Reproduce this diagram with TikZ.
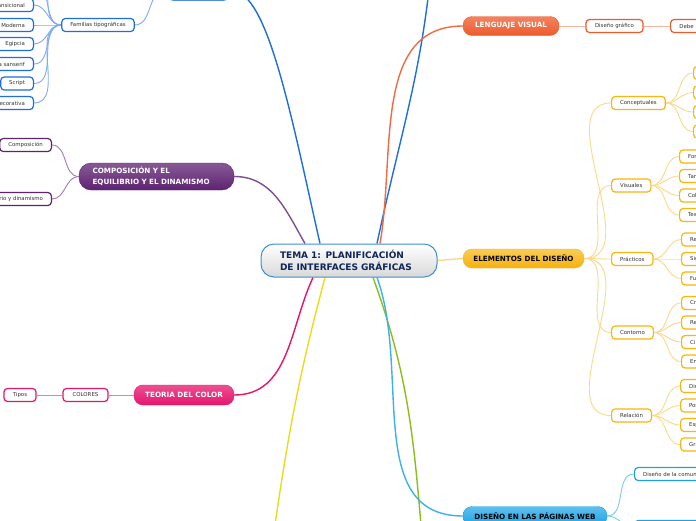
\documentclass[tikz,border=0pt]{standalone}
\usepackage{fontspec}
\setmainfont{DejaVu Sans}
\usetikzlibrary{positioning,backgrounds}
\definecolor{txtgray}{HTML}{333333}
\definecolor{typoblue}{HTML}{1E6FD9}
\definecolor{typoline}{HTML}{80ABF0}
\definecolor{compurple}{HTML}{5E2372}
\definecolor{compline}{HTML}{A47BB3}
\definecolor{colpink}{HTML}{E5156D}
\definecolor{colline}{HTML}{F27AA8}
\definecolor{lenorange}{HTML}{EE5A2C}
\definecolor{lenline}{HTML}{F7B3A0}
\definecolor{elemgold}{HTML}{F8B60E}
\definecolor{elemline}{HTML}{FCD98A}
\definecolor{webblue}{HTML}{1BA3E6}
\definecolor{webline}{HTML}{7CCBF2}
\definecolor{yelline}{HTML}{E9DC1C}
\definecolor{grnline}{HTML}{8DBD1A}
\definecolor{cenedge}{HTML}{3D8FD6}
\definecolor{centext}{HTML}{10265A}
\tikzset{
  topic/.style={rounded corners=9pt, minimum height=19pt, inner xsep=10pt, inner ysep=1pt,
                align=left, text=white, font=\fontsize{7.2}{11}\selectfont\bfseries},
  leaf/.style={draw, fill=white, line width=1.2pt, rounded corners=3.5pt, minimum height=13pt,
               minimum width=32pt, inner xsep=8.5pt, inner ysep=1pt, text=txtgray,
               font=\fontsize{5.4}{6}\selectfont},
  stub/.style={leaf, draw=elemgold, anchor=west, text width=40pt, align=left},
  trunk/.style={line width=1.4pt},
  twig/.style={line width=0.9pt},
}

\begin{document}
\begin{tikzpicture}[x=1pt, y=1pt]
  \useasboundingbox (0,0) rectangle (696,-520);
  \clip (0,0) rectangle (696,-520);
  \begin{scope}[on background layer]
    \fill[white] (0,0) rectangle (696,-520);
  \end{scope}

  % centre
  \node[draw=cenedge, line width=1pt, top color=white, bottom color=gray!30, rounded corners=13pt,
        text=centext, font=\fontsize{9}{11.5}\selectfont\bfseries, align=left, text width=138pt,
        inner xsep=19pt, minimum height=33pt] (cen) at (349,-260.5)
        {TEMA 1: PLANIFICACIÓN\\DE INTERFACES GRÁFICAS};

  % tipografia (top left)
  \node[topic, top color=typoblue!80, bottom color=typoblue, draw=typoblue, minimum width=67pt] (typo) at (198.5,9) {};
  \node[leaf, draw=typoblue] (fam) at (98,-25) {Familias tipográficas};
  \node[leaf, draw=typoblue, anchor=east] (tTrans) at (34,-5) {Transicional};
  \node[leaf, draw=typoblue, anchor=east] (tMod) at (34,-25) {Moderna};
  \node[leaf, draw=typoblue, anchor=east] (tEgip) at (34,-44) {Egipcia};
  \node[leaf, draw=typoblue, anchor=east] (tSans) at (34,-64) {a sanserif};
  \node[leaf, draw=typoblue, anchor=east] (tScript) at (34,-83.5) {Script};
  \node[leaf, draw=typoblue, anchor=east] (tDeco) at (34,-103) {Decorativa};
  \coordinate (tUpA) at (34,16);
  \coordinate (tUpB) at (34,36);

  % composicion
  \node[topic, top color=compurple!75, bottom color=compurple, draw=compurple, text width=128pt,
        inner xsep=13.5pt, minimum height=27pt, rounded corners=12pt] (comp) at (156.5,-176.5)
        {COMPOSICIÓN Y EL\\EQUILIBRIO Y EL DINAMISMO};
  \node[leaf, draw=compurple, anchor=east] (cA) at (52,-145) {Composición};
  \node[leaf, draw=compurple, anchor=east] (cB) at (52,-199) {Equilibrio y dinamismo};

  % color
  \node[topic, top color=colpink!75, bottom color=colpink, draw=colpink, minimum width=100pt,
        minimum height=20pt, align=center] (color) at (184,-395) {TEORIA DEL COLOR};
  \node[leaf, draw=colpink, minimum width=45pt] (colores) at (85.5,-395) {COLORES};
  \node[leaf, draw=colpink] (tipos) at (20,-395) {Tipos};

  % lenguaje visual
  \node[topic, top color=lenorange!75, bottom color=lenorange, draw=lenorange, minimum width=96pt,
        align=center] (lenguaje) at (511,-26) {LENGUAJE VISUAL};
  \node[leaf, draw=lenorange, minimum width=57pt] (disgraf) at (614.5,-26) {Diseño gráfico};
  \node[leaf, draw=lenorange, anchor=west] (debe) at (670,-26) {Debe};

  % elementos
  \node[topic, top color=elemgold!70, bottom color=elemgold!90!orange, draw=elemgold, text=black,
        minimum width=121pt, align=center] (elem) at (523.5,-258.5) {ELEMENTOS DEL DISEÑO};
  \node[leaf, draw=elemgold, anchor=west] (concep) at (611,-103) {Conceptuales};
  \node[leaf, draw=elemgold, anchor=west] (visual) at (611,-185.5) {Visuales};
  \node[leaf, draw=elemgold, anchor=west] (pract) at (611,-259) {Prácticos};
  \node[leaf, draw=elemgold, anchor=west] (contor) at (611,-332.5) {Contorno};
  \node[leaf, draw=elemgold, anchor=west] (relac) at (611,-415.5) {Relación};
  \node[stub] (cp1) at (693,-73) {};
  \node[stub] (cp2) at (693,-92.5) {};
  \node[stub] (cp3) at (693,-112) {};
  \node[stub] (cp4) at (693,-131.5) {};
  \node[stub] (vi1) at (679,-156.5) {Forma};
  \node[stub] (vi2) at (679,-176) {Tamaño};
  \node[stub] (vi3) at (679,-195.5) {Color};
  \node[stub] (vi4) at (679,-215) {Textura};
  \node[stub] (pr1) at (681,-239.5) {Representación};
  \node[stub] (pr2) at (681,-259) {Significado};
  \node[stub] (pr3) at (681,-278.5) {Función};
  \node[stub] (co1) at (681,-303) {Cr};
  \node[stub] (co2) at (681,-322.5) {Re};
  \node[stub] (co3) at (681,-342) {Ci};
  \node[stub] (co4) at (681,-361.5) {En};
  \node[stub] (re1) at (680,-386) {Dirección};
  \node[stub] (re2) at (680,-405.5) {Posición};
  \node[stub] (re3) at (680,-425) {Espacio};
  \node[stub] (re4) at (680,-444.5) {Gravedad};

  % paginas web
  \node[topic, top color=webblue!70, bottom color=webblue, draw=webblue, text=black,
        minimum width=144pt, align=center] (web) at (535,-516) {DISEÑO EN LAS PÁGINAS WEB};
  \node[leaf, draw=webblue, anchor=west] (webA) at (634,-474) {Diseño de la comunicación};
  \node[leaf, draw=webblue, anchor=west, minimum width=70pt] (webB) at (634,-527) {};

  \coordinate (tEnd) at (432,40);
  \coordinate (yEnd) at (270,-560);
  \coordinate (gEnd) at (424,-560);

  \begin{scope}[on background layer]
    % trunks from the centre
    \draw[trunk, typoblue] (typo.east) .. controls (268,9) and (292,-120) .. ([xshift=-29pt]cen.north);
    \draw[trunk, typoblue] ([xshift=28pt]cen.north) to[out=78, in=-95] (tEnd);
    \draw[trunk, lenorange!90] ([xshift=31pt]cen.north) to[out=80, in=180] (lenguaje.west);
    \draw[trunk, compurple!80] ([xshift=-44pt]cen.north) to[out=120, in=0] (comp.east);
    \draw[trunk, colpink] ([xshift=-36pt]cen.south) to[out=-115, in=0] (color.east);
    \draw[trunk, yelline] ([xshift=-24pt]cen.south) to[out=-105, in=82] (yEnd);
    \draw[trunk, grnline] ([xshift=24pt]cen.south) to[out=-70, in=95] (gEnd);
    \draw[trunk, webblue!85] ([xshift=28pt]cen.south) to[out=-70, in=180] (web.west);
    \draw[trunk, elemline] (cen.east) -- (elem.west);
    % tipografia
    \draw[twig, typoline] (fam.east) to[out=0, in=180] (typo.west);
    \draw[twig, typoline] (fam.west) to[out=180, in=0] (tUpA);
    \draw[twig, typoline] (fam.west) to[out=180, in=0] (tUpB);
    \foreach \n in {tTrans,tMod,tEgip,tSans,tScript,tDeco}
      \draw[twig, typoline] (fam.west) to[out=180, in=0] (\n.east);
    % composicion
    \draw[twig, compline] (comp.west) to[out=180, in=0] (cA.east);
    \draw[twig, compline] (comp.west) to[out=180, in=0] (cB.east);
    % color
    \draw[twig, colline] (color.west) -- (colores.east);
    \draw[twig, colline] (colores.west) -- (tipos.east);
    % lenguaje
    \draw[twig, lenline] (lenguaje.east) -- (disgraf.west);
    \draw[twig, lenline] (disgraf.east) -- (debe.west);
    % elementos
    \foreach \n in {concep,visual,pract,contor,relac}
      \draw[twig, elemline] (elem.east) to[out=0, in=180] (\n.west);
    \foreach \n in {cp1,cp2,cp3,cp4}
      \draw[twig, elemline] (concep.east) to[out=0, in=180] (\n.west);
    \foreach \n in {vi1,vi2,vi3,vi4}
      \draw[twig, elemline] (visual.east) to[out=0, in=180] (\n.west);
    \foreach \n in {pr1,pr2,pr3}
      \draw[twig, elemline] (pract.east) to[out=0, in=180] (\n.west);
    \foreach \n in {co1,co2,co3,co4}
      \draw[twig, elemline] (contor.east) to[out=0, in=180] (\n.west);
    \foreach \n in {re1,re2,re3,re4}
      \draw[twig, elemline] (relac.east) to[out=0, in=180] (\n.west);
    % web
    \draw[twig, webline] (web.east) to[out=0, in=180] (webA.west);
    \draw[twig, webline] (web.east) to[out=0, in=180] (webB.west);
  \end{scope}
\end{tikzpicture}
\end{document}
